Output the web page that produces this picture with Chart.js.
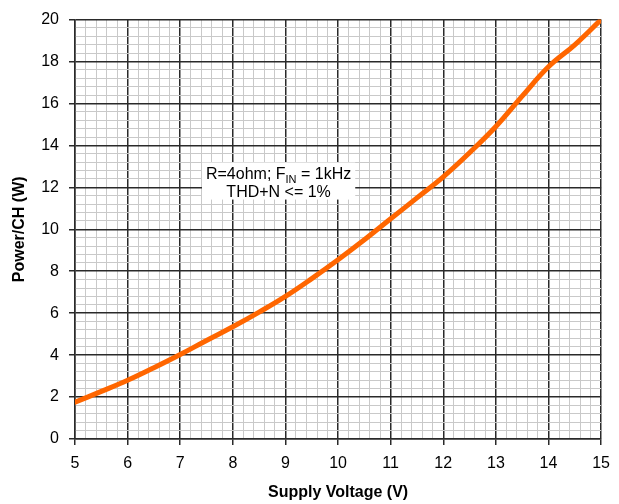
<!DOCTYPE html>
<html>
<head>
<meta charset="utf-8">
<script src="https://cdn.jsdelivr.net/npm/chart.js@4/dist/chart.umd.min.js"></script>
<style>
  html, body { margin: 0; padding: 0; background: #fff; }
  canvas { display: block; }
</style>
</head>
<body>
<canvas id="chart" width="619" height="504"></canvas>
<script>
// Dados (tensão de alimentação x potência por canal)
const volts = [5, 5.5, 6, 6.5, 7, 7.5, 8, 8.5, 9, 9.5, 10, 10.5, 11, 11.5, 12, 12.5, 13, 13.5, 14, 14.5, 15];
const power = [1.75, 2.27, 2.8, 3.4, 4.03, 4.7, 5.35, 6.05, 6.8, 7.65, 8.55, 9.5, 10.5, 11.5, 12.5, 13.65, 14.9, 16.35, 17.75, 18.8, 20];

const xTickLabels = [5, 6, 7, 8, 9, 10, 11, 12, 13, 14, 15];
const yTickLabels = [0, 2, 4, 6, 8, 10, 12, 14, 16, 18, 20];

const noteLine1 = ['R=4ohm; F', 'IN', ' = 1kHz'];
const noteLine2 = 'THD+N <= 1%';
const noteAt = { x: 8.87, y: 12.3 };

const FONT = "'Liberation Sans', Arial, sans-serif";
const MAJOR = '#2a2a2a';
const MINOR = '#c9c9c9';

const near = (v, list) => list.some(t => Math.abs(t - v) < 1e-6);

// Caixa de texto com as condições de teste
const notePlugin = {
  id: 'note',
  beforeDatasetsDraw(chart) {
    const { ctx, scales } = chart;
    const cx = scales.x.getPixelForValue(noteAt.x);
    const cy = scales.y.getPixelForValue(noteAt.y);
    ctx.save();
    ctx.font = `16px ${FONT}`;
    const w1a = ctx.measureText(noteLine1[0]).width;
    const w1c = ctx.measureText(noteLine1[2]).width;
    const w2 = ctx.measureText(noteLine2).width;
    ctx.font = `11px ${FONT}`;
    const w1b = ctx.measureText(noteLine1[1]).width;
    const w1 = w1a + w1b + w1c;
    const boxW = Math.max(w1, w2) + 8;
    const boxH = 37;
    ctx.fillStyle = '#fff';
    ctx.fillRect(cx - boxW / 2, cy - boxH / 2, boxW, boxH);

    ctx.fillStyle = '#000';
    ctx.textBaseline = 'alphabetic';
    ctx.textAlign = 'left';
    let x = cx - w1 / 2;
    const base1 = cy - 2.5;
    ctx.font = `16px ${FONT}`;
    ctx.fillText(noteLine1[0], x, base1);
    x += w1a;
    ctx.font = `11px ${FONT}`;
    ctx.fillText(noteLine1[1], x, base1 + 4);
    x += w1b;
    ctx.font = `16px ${FONT}`;
    ctx.fillText(noteLine1[2], x, base1);
    ctx.textAlign = 'center';
    ctx.fillText(noteLine2, cx, cy + 16);
    ctx.restore();
  }
};

new Chart(document.getElementById('chart'), {
  type: 'line',
  data: {
    datasets: [{
      data: volts.map((v, i) => ({ x: v, y: power[i] })),
      borderColor: '#FF6600',
      borderWidth: 5,
      pointRadius: 0,
      fill: false,
      tension: 0.4,
      borderCapStyle: 'round',
    }],
  },
  options: {
    responsive: false,
    animation: false,
    layout: { padding: { top: 12, right: 17, left: 0, bottom: 0 } },
    plugins: {
      legend: { display: false },
      tooltip: { enabled: false },
    },
    scales: {
      x: {
        type: 'linear',
        min: 5,
        max: 15,
        afterFit: s => { s.height = 65; },
        ticks: {
          stepSize: 0.2,
          autoSkip: false,
          maxTicksLimit: 200,
          maxRotation: 0,
          padding: 9,
          color: '#000',
          font: { family: FONT, size: 16 },
          callback: v => near(v, xTickLabels) ? String(Math.round(v)) : '',
        },
        grid: {
          color: c => near(c.tick.value, xTickLabels) ? MAJOR : MINOR,
          lineWidth: c => near(c.tick.value, xTickLabels) ? 1.5 : 1,
          tickColor: c => near(c.tick.value, xTickLabels) ? MAJOR : 'rgba(0,0,0,0)',
          tickLength: 6,
        },
        border: { color: MAJOR, width: 1.5 },
        title: {
          display: true,
          text: 'Supply Voltage (V)',
          color: '#000',
          font: { family: FONT, size: 16, weight: 'bold' },
          padding: { top: 4, bottom: 2 },
        },
      },
      y: {
        type: 'linear',
        min: 0,
        max: 20,
        afterFit: s => { s.width = 75; },
        ticks: {
          stepSize: 0.4,
          autoSkip: false,
          maxTicksLimit: 200,
          padding: 10,
          color: '#000',
          font: { family: FONT, size: 16 },
          callback: v => near(v, yTickLabels) ? String(Math.round(v)) : '',
        },
        grid: {
          color: c => near(c.tick.value, yTickLabels) ? MAJOR : MINOR,
          lineWidth: c => near(c.tick.value, yTickLabels) ? 1.5 : 1,
          tickColor: c => near(c.tick.value, yTickLabels) ? MAJOR : 'rgba(0,0,0,0)',
          tickLength: 6,
        },
        border: { color: MAJOR, width: 1.5 },
        title: {
          display: true,
          text: 'Power/CH (W)',
          color: '#000',
          font: { family: FONT, size: 16, weight: 'bold' },
          padding: { top: 10, bottom: 0 },
        },
      },
    },
  },
  plugins: [notePlugin],
});
</script>
</body>
</html>
